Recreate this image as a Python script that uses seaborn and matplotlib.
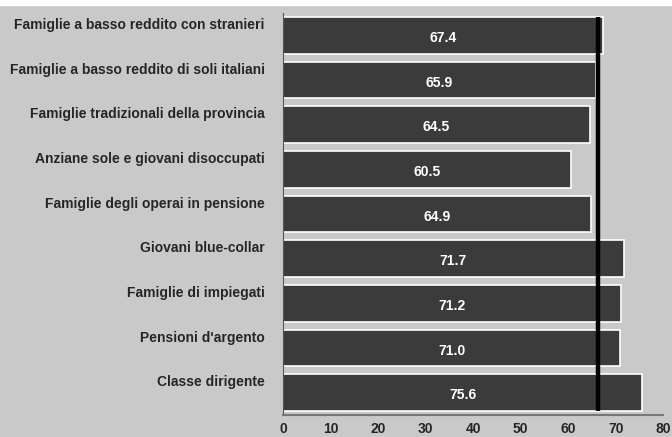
import matplotlib
matplotlib.use('Agg')
import matplotlib.pyplot as plt
import matplotlib.transforms as mtransforms
from matplotlib.patches import Rectangle
import seaborn as sns
import pandas as pd

# dati
gruppi = ['Famiglie a basso reddito con stranieri',
          'Famiglie a basso reddito di soli italiani',
          'Famiglie tradizionali della provincia',
          'Anziane sole e giovani disoccupati',
          'Famiglie degli operai in pensione',
          'Giovani blue-collar',
          'Famiglie di impiegati',
          "Pensioni d'argento",
          'Classe dirigente']
valori = [67.4, 65.9, 64.5, 60.5, 64.9, 71.7, 71.2, 71.0, 75.6]
media = 66.3
xticks = [0, 10, 20, 30, 40, 50, 60, 70, 80]

df = pd.DataFrame({'gruppo': gruppi, 'valore': valori})

sns.set_style('white')
plt.rcParams['font.family'] = ['Liberation Sans', 'DejaVu Sans']

grigio = '#c9c9c9'
fig = plt.figure(figsize=(6.72, 4.37), dpi=100, facecolor=grigio)
ax = fig.add_axes([0.421, 0.050, 0.566, 0.920])
ax.set_facecolor(grigio)

sns.barplot(data=df, x='valore', y='gruppo', orient='h', color='#3b3b3b',
            edgecolor='white', linewidth=1.2, width=0.82, saturation=1, ax=ax)

# etichette dei valori
for i, v in enumerate(valori):
    ax.text(v / 2, i + 0.06, f'{v:.1f}', color='white', fontsize=10,
            fontweight='bold', ha='center', va='center')

# linea della media
ax.vlines(media, -0.41, len(gruppi) - 1 + 0.41, color='black', lw=3.2, zorder=5)

ax.set_xlim(0, 80)
ax.set_ylim(len(gruppi) - 0.5, -0.5)
ax.set_xticks(xticks)
ax.set_xticklabels([str(t) for t in xticks], fontsize=10, fontweight='bold')
ax.tick_params(axis='x', length=0, pad=5)
ax.tick_params(axis='y', length=0, pad=13)
for lab in ax.get_yticklabels():
    lab.set_fontsize(10)
    lab.set_fontweight('bold')
ax.set_xlabel('')
ax.set_ylabel('')

# etichette un po' sopra il centro della barra
offset = mtransforms.ScaledTranslation(0, 0.12, fig.dpi_scale_trans)
for lab in ax.get_yticklabels():
    lab.set_transform(lab.get_transform() + offset)

for s in ['top', 'right']:
    ax.spines[s].set_visible(False)
ax.spines['left'].set_color('#555555')
ax.spines['left'].set_linewidth(0.8)
ax.spines['bottom'].set_color('#777777')
ax.spines['bottom'].set_linewidth(1.5)

# striscia bianca in alto
fig.patches.append(Rectangle((0, 1 - 5 / 437), 1, 5 / 437,
                             transform=fig.transFigure, color='white', zorder=0))

fig.savefig('out.png', dpi=100, facecolor=grigio)
